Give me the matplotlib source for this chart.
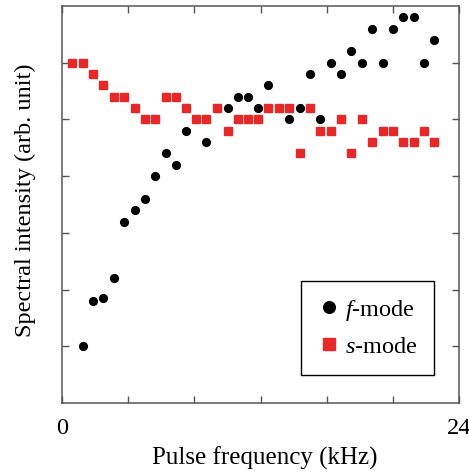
import matplotlib.pyplot as plt

plt.rcParams['font.family'] = 'Liberation Serif'
plt.rcParams['mathtext.fontset'] = 'custom'
plt.rcParams['mathtext.rm'] = 'Liberation Serif'
plt.rcParams['mathtext.it'] = 'Liberation Serif:italic'

# f-mode (black circles)
f_freq = [1.27, 1.87, 2.48, 3.13, 3.73, 4.41, 5.02, 5.62, 6.27, 6.87, 7.48,
          8.72, 10.02, 10.62, 11.26, 11.87, 12.47, 13.72, 14.41, 15.01, 15.60,
          16.25, 16.87, 17.47, 18.14, 18.74, 19.39, 19.99, 20.60, 21.26, 21.87, 22.47]
f_int = [1.0, 1.8, 1.85, 2.2, 3.2, 3.4, 3.6, 4.0, 4.4, 4.2, 4.8,
         4.6, 5.2, 5.4, 5.4, 5.2, 5.6, 5.0, 5.2, 5.8, 5.0,
         6.0, 5.8, 6.2, 6.0, 6.6, 6.0, 6.6, 6.8, 6.8, 6.0, 6.4]

# s-mode (red squares)
s_freq = [0.60, 1.27, 1.87, 2.48, 3.13, 3.73, 4.41, 5.02, 5.62, 6.27, 6.87, 7.48,
          8.12, 8.72, 9.37, 10.02, 10.62, 11.26, 11.87, 12.47, 13.12, 13.72, 14.41,
          15.01, 15.60, 16.25, 16.87, 17.47, 18.14, 18.74, 19.39, 19.99, 20.60,
          21.26, 21.87, 22.47]
s_int = [6.0, 6.0, 5.8, 5.6, 5.4, 5.4, 5.2, 5.0, 5.0, 5.4, 5.4, 5.2,
         5.0, 5.0, 5.2, 4.8, 5.0, 5.0, 5.0, 5.2, 5.2, 5.2, 4.4,
         5.2, 4.8, 4.8, 5.0, 4.4, 5.0, 4.6, 4.8, 4.8, 4.6,
         4.6, 4.8, 4.6]

fig = plt.figure(figsize=(4.69, 4.72), dpi=100)
ax = fig.add_axes([0.1322, 0.1462, 0.8465, 0.8411])

ax.plot(f_freq, f_int, 'o', color='black', markersize=5.6, label=r'$\it{f}$-mode')
ax.plot(s_freq, s_int, 's', color='#e62828', markersize=5.6, label=r'$\it{s}$-mode')

ax.set_xlim(0, 24)
ax.set_ylim(0, 7)
ax.set_xticks([0, 4, 8, 12, 16, 20, 24])
ax.set_xticklabels(['0', '', '', '', '', '', '24'])
ax.set_yticks([1, 2, 3, 4, 5, 6])
ax.set_yticklabels([])
ax.tick_params(direction='in', length=5, width=1, colors='#555555', labelcolor='black',
               top=True, right=True, labelsize=17.5, pad=11)
for sp in ax.spines.values():
    sp.set_color('#555555')
    sp.set_linewidth(1.1)

ax.set_xlabel('Pulse frequency (kHz)', fontsize=18, labelpad=5)
ax.set_ylabel('Spectral intensity (arb. unit)', fontsize=17.5, labelpad=8)
ax.xaxis.label.set_x(0.51)
ax.yaxis.label.set_y(0.511)

leg = ax.legend(loc='lower left', bbox_to_anchor=(0.602, 0.0705), fontsize=17.5,
                markerscale=1.5, fancybox=False, edgecolor='black', framealpha=1,
                handletextpad=0.2, borderpad=0.7, labelspacing=0.55, handlelength=0.9,
                borderaxespad=0)
leg.get_frame().set_linewidth(1.0)

fig.savefig('out.png', dpi=100)
